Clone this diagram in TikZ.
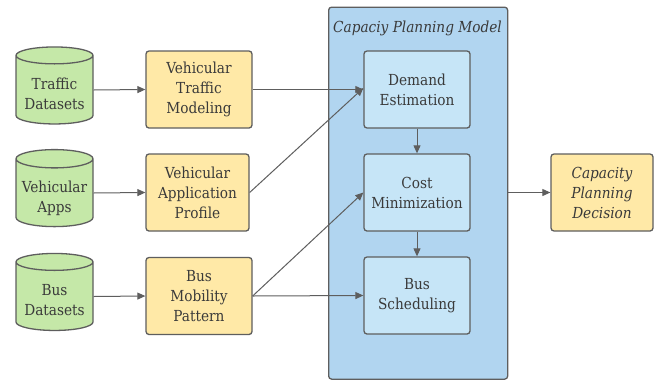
\documentclass[tikz,border=0pt]{standalone}
\usepackage{fontspec}
\newfontfamily\diafont{DejaVu Serif Condensed}
\usetikzlibrary{shapes.geometric,arrows.meta}
\definecolor{gfill}{HTML}{C5E8A8}
\definecolor{yfill}{HTML}{FFE9A7}
\definecolor{bbig}{HTML}{B1D5F0}
\definecolor{binner}{HTML}{C6E5F7}
\definecolor{edge}{HTML}{5E5E5E}
\definecolor{txt}{HTML}{3A3A3A}
\newcommand{\lowtext}[1]{\raisebox{-5pt}[\height][\depth]{\begin{tabular}{@{}c@{}}#1\end{tabular}}}
\tikzset{
  lbl/.style={text=txt, align=center, font=\diafont\fontsize{15.2}{20}\selectfont, inner sep=0pt},
  base/.style={lbl, draw=edge, line width=1.3pt},
  db/.style={base, cylinder, shape border rotate=90, aspect=0.28, fill=gfill, minimum width=77pt, minimum height=77pt},
  ybox/.style={base, rounded corners=3pt, fill=yfill, minimum width=106pt, minimum height=77pt},
  ibox/.style={base, rounded corners=3pt, fill=binner, minimum width=106pt, minimum height=77pt},
  conn/.style={draw=edge, line width=1pt, -{Triangle[length=8pt,width=7pt]}},
}
\begin{document}
\begin{tikzpicture}[x=1pt,y=-1pt]
\useasboundingbox (0,0) rectangle (663,381);
\fill[white] (0,0) rectangle (663,381);
% big container
\node[base, rounded corners=3pt, fill=bbig, minimum width=179pt, minimum height=372pt, anchor=north west] (model) at (328,6.5) {};
\node[lbl, font=\diafont\fontsize{15.2}{20}\selectfont\itshape] (title) at (417.5,28) {Capaciy Planning Model};
% cylinders
\node[db] (td) at (54.5,90) {\lowtext{Traffic\\Datasets}};
\node[db] (va) at (54.5,193) {\lowtext{Vehicular\\Apps}};
\node[db] (bd) at (54.5,296.5) {\lowtext{Bus\\Datasets}};
% yellow boxes
\node[ybox] (vtm) at (199,89.5) {Vehicular\\Traffic\\Modeling};
\node[ybox, minimum width=103pt] (vap) at (197.5,192.5) {Vehicular\\Application\\Profile};
\node[ybox] (bmp) at (199,296) {Bus\\Mobility\\Pattern};
% inner boxes
\node[ibox] (de) at (417,89.5) {Demand\\Estimation};
\node[ibox] (cm) at (417,192.5) {Cost\\Minimization};
\node[ibox] (bs) at (417,295.5) {Bus\\Scheduling};
% decision
\node[ybox, minimum width=102pt, font=\diafont\fontsize{15.2}{20}\selectfont\itshape] (cpd) at (602,192.5) {Capacity\\Planning\\Decision};
% connectors
\draw[conn] (td.east) -- (vtm.west);
\draw[conn] (va.east) -- (vap.west);
\draw[conn] (bd.east) -- (bmp.west);
\draw[conn] (vtm.east) -- (de.west);
\draw[conn] (vap.east) -- ([yshift=1.5pt]de.west);
\draw[conn] (bmp.east) -- (cm.west);
\draw[conn] (bmp.east) -- (bs.west);
\draw[conn] (de.south) -- (cm.north);
\draw[conn] (cm.south) -- (bs.north);
\draw[conn] (model.east |- cm.east) -- (cpd.west);
\end{tikzpicture}
\end{document}
